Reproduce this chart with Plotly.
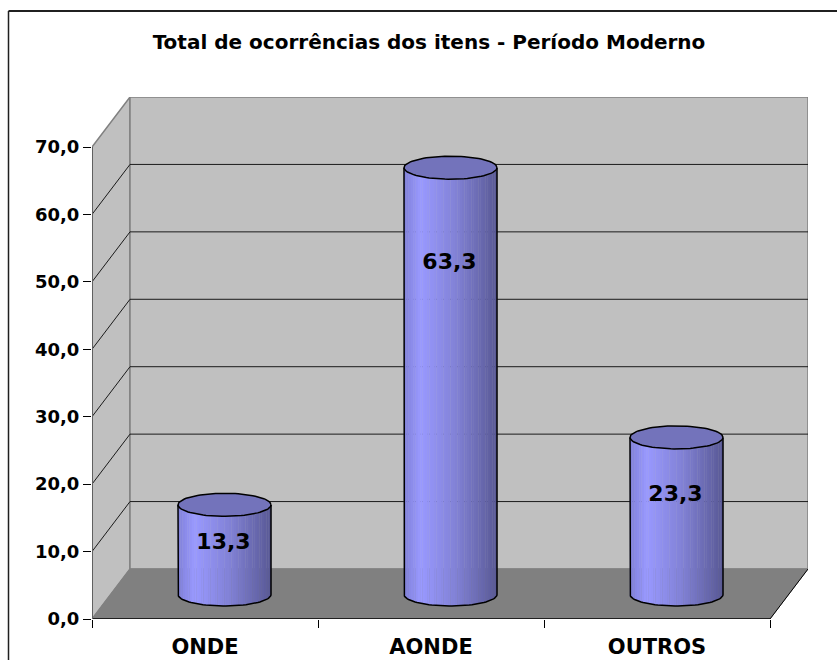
import numpy as np
import plotly.graph_objects as go

categories = ["ONDE", "AONDE", "OUTROS"]
values = [13.3, 63.3, 23.3]
value_labels = ["13,3", "63,3", "23,3"]
label_heights = [11.25, 52.65, 18.25]
y_ticks = [0, 10, 20, 30, 40, 50, 60, 70]
y_tick_labels = ["0,0", "10,0", "20,0", "30,0", "40,0", "50,0", "60,0", "70,0"]
title = "Total de ocorrências dos itens - Período Moderno"

W, H = 837, 660
L, R, T, B = 92, 808, 97, 619
PX_X = 226.0          # px per category
PX_Y = 6.743          # px per value unit
DEPTH_X = 38 / PX_X   # depth in x units
DEPTH_Y = 50 / PX_Y   # depth in y units
FONT = "DejaVu Sans, Verdana, sans-serif"

x0, x1 = -0.5, 2.5
y0, y1 = 0, 70
RAD_X = 46.5 / PX_X
RAD_Y = 11.5 / PX_Y
CX_OFF = 19.5 / PX_X
BASE_Y = 24.5 / PX_Y


def poly(pts):
    return "M" + " L".join(f"{a},{b}" for a, b in pts) + " Z"


shapes = [
    dict(type="path", path=poly([(x0, y0), (x0 + DEPTH_X, DEPTH_Y), (x0 + DEPTH_X, y1 + DEPTH_Y), (x0, y1)]),
         fillcolor="#c0c0c0", line=dict(color="#808080", width=1.5), layer="below"),
    dict(type="path", path=poly([(x0 + DEPTH_X, DEPTH_Y), (x1 + DEPTH_X, DEPTH_Y), (x1 + DEPTH_X, y1 + DEPTH_Y), (x0 + DEPTH_X, y1 + DEPTH_Y)]),
         fillcolor="#c0c0c0", line=dict(color="#808080", width=1.5), layer="below"),
    dict(type="path", path=poly([(x0, y0), (x1, y0), (x1 + DEPTH_X, DEPTH_Y), (x0 + DEPTH_X, DEPTH_Y)]),
         fillcolor="#808080", line=dict(color="#808080", width=1), layer="below"),
]
for v in y_ticks[1:-1]:
    pts = [(x0, v), (x0 + DEPTH_X, v + DEPTH_Y), (x1 + DEPTH_X, v + DEPTH_Y)]
    shapes.append(dict(type="path", path="M" + " L".join(f"{a},{b}" for a, b in pts),
                       line=dict(color="#1a1a1a", width=1), layer="below"))
# front edges of the floor and the value axis
shapes.append(dict(type="line", x0=x0, x1=x1, y0=0, y1=0, line=dict(color="#000", width=1.5), layer="below"))
shapes.append(dict(type="line", x0=x1, x1=x1 + DEPTH_X, y0=0, y1=DEPTH_Y, line=dict(color="#000", width=1), layer="below"))
shapes.append(dict(type="line", x0=x0, x1=x0, y0=-8 / PX_Y, y1=y1, line=dict(color="#606060", width=2), layer="below"))
# outer frame: only the top and left edges show
fx = lambda px: (px - L) / (R - L)
fy = lambda py: (B - py) / (B - T)
shapes.append(dict(type="line", xref="paper", yref="paper", x0=fx(8.5), x1=fx(837), y0=fy(11), y1=fy(11),
                   line=dict(color="#202020", width=2), layer="below"))
shapes.append(dict(type="line", xref="paper", yref="paper", x0=fx(8.5), x1=fx(8.5), y0=fy(11), y1=fy(660),
                   line=dict(color="#202020", width=1.5), layer="below"))


def lerp(stops, t):
    ts = [s[0] for s in stops]
    return "rgb(" + ",".join(str(int(round(np.interp(t, ts, [s[1][i] for s in stops])))) for i in range(3)) + ")"


stops = [(0, (128, 128, 216)), (0.18, (153, 153, 255)), (0.55, (130, 130, 215)), (0.85, (103, 103, 172)), (1, (88, 88, 148))]
N = 40
fig = go.Figure()

for i, val in enumerate(values):
    cx = i + CX_OFF
    edges = np.linspace(-1, 1, N + 1)
    mids = (edges[:-1] + edges[1:]) / 2
    bottoms = BASE_Y - RAD_Y * np.sqrt(1 - mids ** 2)
    tops = BASE_Y + val
    fig.add_trace(go.Bar(x=cx + mids * RAD_X, base=bottoms, y=tops - bottoms,
                         width=2.25 * RAD_X / N,
                         marker=dict(color=[lerp(stops, (m + 1) / 2) for m in mids], line=dict(width=0)),
                         showlegend=False, hoverinfo="skip"))
    th = np.linspace(0, 2 * np.pi, 90)
    fig.add_trace(go.Scatter(x=cx + RAD_X * np.cos(th), y=BASE_Y + val + RAD_Y * np.sin(th), mode="lines",
                             fill="toself", fillcolor="#7373bb", line=dict(color="#000", width=1.5),
                             showlegend=False, hoverinfo="skip"))
    low = np.linspace(np.pi, 2 * np.pi, 50)
    ox = np.concatenate([[cx - RAD_X], cx + RAD_X * np.cos(low), [cx + RAD_X]])
    oy = np.concatenate([[BASE_Y + val], BASE_Y + RAD_Y * np.sin(low), [BASE_Y + val]])
    fig.add_trace(go.Scatter(x=ox, y=oy, mode="lines", line=dict(color="#000", width=1.5),
                             showlegend=False, hoverinfo="skip"))

fig.add_trace(go.Scatter(x=[i + CX_OFF - 1 / PX_X for i in range(3)], y=label_heights, mode="text", text=value_labels,
                         textposition="middle center",
                         textfont=dict(family=FONT, size=22, color="#000", weight="bold"),
                         showlegend=False, hoverinfo="skip"))

fig.update_layout(
    width=W, height=H, autosize=False, showlegend=False, barmode="overlay",
    paper_bgcolor="#ffffff", plot_bgcolor="rgba(0,0,0,0)",
    margin=dict(l=L, r=W - R, t=T, b=H - B, pad=0),
    title=dict(text=title, x=429 / W, xanchor="center", y=1 - 42 / H, yanchor="middle",
               font=dict(family=FONT, size=20, color="#000", weight="bold")),
    xaxis=dict(range=[x0, x1 + DEPTH_X], tickmode="array", tickvals=[0, 1, 2], ticktext=categories,
               ticks="", showgrid=False, zeroline=False, showline=False, fixedrange=True, ticklabelstandoff=13,
               automargin=False,
               tickfont=dict(family=FONT, size=21, color="#000", weight="bold"),
               minor=dict(tickmode="array", tickvals=[-0.5, 0.5, 1.5, 2.5], ticks="outside", ticklen=8,
                          tickwidth=1, tickcolor="#000", showgrid=False)),
    yaxis=dict(range=[y0, y1 + DEPTH_Y], tickmode="array", tickvals=y_ticks, ticktext=y_tick_labels,
               ticks="outside", ticklen=8, tickwidth=1, tickcolor="#000", showgrid=False, zeroline=False,
               showline=False, fixedrange=True, automargin=False,
               tickfont=dict(family=FONT, size=18, color="#000", weight="bold")),
    shapes=shapes,
)
fig.write_html("out.html", post_script="document.body.style.margin='0';", config=dict(displayModeBar=False))
